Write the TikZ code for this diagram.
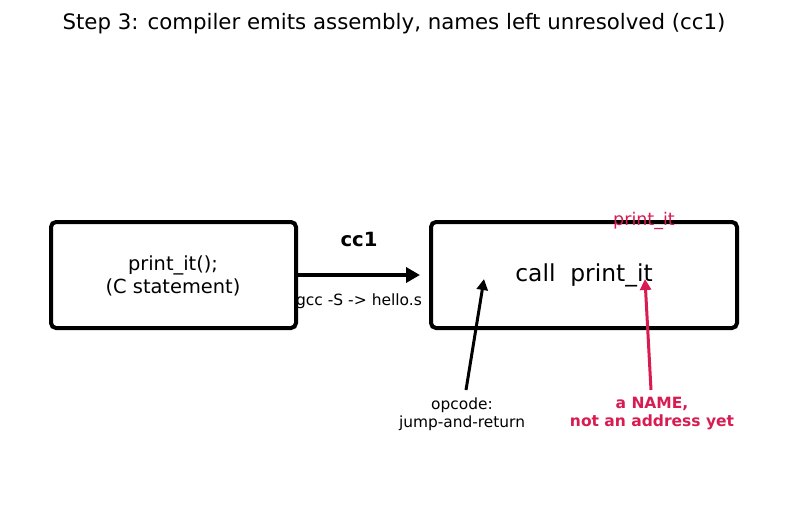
\documentclass[tikz,border=0pt]{standalone}
\usepackage{fontspec}
\setmainfont{DejaVu Sans}
\usetikzlibrary{arrows.meta}
\definecolor{crim}{RGB}{216,27,80}
\tikzset{
  boxst/.style={draw=black, line width=4pt, rounded corners=5pt, fill=white},
  conn/.style={line width=3pt, -{Stealth[length=11pt,width=11pt,inset=0pt]}},
  lbl/.style={font=\fontsize{15.4}{18}\selectfont, align=center, inner sep=0pt},
}
\begin{document}
\begin{tikzpicture}[x=1pt,y=-1pt]
\useasboundingbox (0,0) rectangle (787,508);
\node[inner sep=0pt, font=\fontsize{21.3}{25}\selectfont] (title) at (394,24) {Step 3: compiler emits assembly, names left unresolved (cc1)};
\draw[boxst] (51,222) rectangle (296,328);
\coordinate (lb) at (296,275);
\node[lbl, font=\fontsize{19.4}{23}\selectfont] (ltext) at (173,276) {print\_it();\\(C statement)};
\draw[boxst] (431,222) rectangle (737,328);
\node[inner sep=0pt, font=\fontsize{23.4}{28}\selectfont] (call) at (584,275) {call\ \ print\_it};
\coordinate (ra) at (420,275);
\draw[line width=4pt, -{Stealth[length=14pt,width=15pt,inset=0pt]}] (lb) -- (ra);
\node[inner sep=0pt, font=\bfseries\fontsize{19.6}{22}\selectfont] (cc) at (359,239) {cc1};
\node[inner sep=0pt, font=\fontsize{15.5}{18}\selectfont] (gcc) at (359,301) {gcc -S -> hello.s};
\node[inner sep=0pt, text=crim, font=\fontsize{17.5}{20}\selectfont] (pit) at (644,221) {print\_it};
\node[lbl] (op) at (462,414) {opcode:\\jump-and-return};
\node[lbl, text=crim, font=\bfseries\fontsize{15.5}{18}\selectfont] (nm) at (652,414) {a NAME,\\not an address yet};
\coordinate (opt) at (466,390);
\coordinate (oph) at (484,279);
\coordinate (nmt) at (651,390);
\coordinate (nmh) at (645,279);
\draw[conn] (opt) -- (oph);
\draw[conn, crim] (nmt) -- (nmh);
\end{tikzpicture}
\end{document}
